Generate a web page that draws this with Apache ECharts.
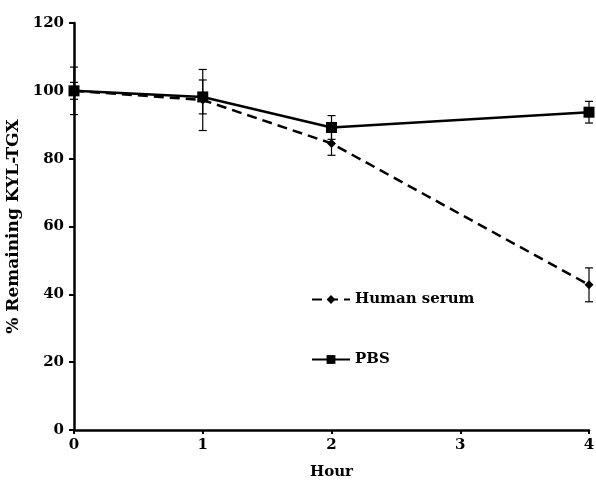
<!DOCTYPE html>
<html>
<head>
<meta charset="utf-8">
<script src="https://cdn.jsdelivr.net/npm/echarts@6/dist/echarts.min.js"></script>
<style>
  html, body { margin: 0; padding: 0; background: #fff; }
  #main { width: 596px; height: 482px; }
</style>
</head>
<body>
<div id="main"></div>
<script>
// hours sampled
const hours = [0, 1, 2, 4];
// % remaining
const serumValues = [100, 97.3, 84.5, 42.8];
const pbsValues = [100, 98.2, 89.2, 93.7];
// error (+/-)
const serumErr = [2.5, 9, 3.5, 5];
const pbsErr = [7, 5, 3.5, 3.2];
const xTicks = [0, 1, 2, 3, 4];
const yTicks = [0, 20, 40, 60, 80, 100, 120];

const font = '"DejaVu Serif", "Liberation Serif", serif';

const toPoints = (vals) => hours.map((h, i) => [h, vals[i]]);
const toErr = (vals, err) => hours.map((h, i) => [h, vals[i] - err[i], vals[i] + err[i]]);

const errorBar = (params, api) => {
  const x = api.value(0);
  const lo = api.coord([x, api.value(1)]);
  const hi = api.coord([x, api.value(2)]);
  const cap = 4;
  const style = { stroke: '#000', lineWidth: 1.2 };
  return {
    type: 'group',
    children: [
      { type: 'line', shape: { x1: lo[0], y1: lo[1], x2: hi[0], y2: hi[1] }, style: style },
      { type: 'line', shape: { x1: lo[0] - cap, y1: lo[1], x2: lo[0] + cap, y2: lo[1] }, style: style },
      { type: 'line', shape: { x1: hi[0] - cap, y1: hi[1], x2: hi[0] + cap, y2: hi[1] }, style: style }
    ]
  };
};

const chart = echarts.init(document.getElementById('main'));
chart.setOption({
  animation: false,
  textStyle: { fontFamily: font, color: '#000' },
  grid: { left: 74, right: 7, top: 23, bottom: 52, outerBoundsMode: 'none' },
  legend: {
    data: ['Human serum', 'PBS'],
    orient: 'vertical',
    left: 306,
    top: 287,
    itemWidth: 38,
    itemHeight: 11,
    itemGap: 45,
    textStyle: { fontFamily: font, fontWeight: 'bold', fontSize: 15, color: '#000' }
  },
  xAxis: {
    type: 'value',
    min: xTicks[0],
    max: xTicks[xTicks.length - 1],
    interval: 1,
    name: 'Hour',
    nameLocation: 'middle',
    nameGap: 35,
    nameTextStyle: { fontFamily: font, fontWeight: 'bold', fontSize: 15, color: '#000' },
    axisLine: { lineStyle: { color: '#000', width: 2.5 } },
    axisTick: { show: true, length: 4, lineStyle: { color: '#000', width: 2 } },
    axisLabel: { fontFamily: font, fontWeight: 'bold', fontSize: 15, color: '#000', margin: 8 },
    splitLine: { show: false }
  },
  yAxis: {
    type: 'value',
    min: yTicks[0],
    max: yTicks[yTicks.length - 1],
    interval: 20,
    name: '% Remaining KYL-TGX',
    nameLocation: 'middle',
    nameGap: 48,
    nameTextStyle: { fontFamily: font, fontWeight: 'bold', fontSize: 17, color: '#000' },
    axisLine: { show: true, lineStyle: { color: '#000', width: 2.5 } },
    axisTick: { show: true, length: 5, lineStyle: { color: '#000', width: 2 } },
    axisLabel: { fontFamily: font, fontWeight: 'bold', fontSize: 15, color: '#000', margin: 10 },
    splitLine: { show: false }
  },
  series: [
    {
      name: 'Human serum',
      type: 'line',
      data: toPoints(serumValues),
      symbol: 'diamond',
      symbolSize: 9,
      itemStyle: { color: '#000' },
      lineStyle: { color: '#000', width: 2.5, type: [10, 6] },
      z: 3
    },
    {
      name: 'PBS',
      type: 'line',
      data: toPoints(pbsValues),
      symbol: 'rect',
      symbolSize: 11,
      itemStyle: { color: '#000' },
      lineStyle: { color: '#000', width: 2.5 },
      z: 4
    },
    {
      type: 'custom',
      renderItem: errorBar,
      data: toErr(serumValues, serumErr),
      encode: { x: 0, y: [1, 2] },
      z: 5
    },
    {
      type: 'custom',
      renderItem: errorBar,
      data: toErr(pbsValues, pbsErr),
      encode: { x: 0, y: [1, 2] },
      z: 5
    }
  ]
});
</script>
</body>
</html>
